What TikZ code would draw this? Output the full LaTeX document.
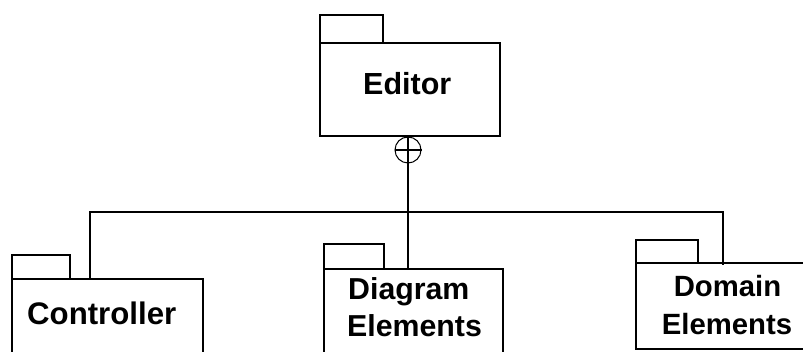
\documentclass[tikz,border=0pt]{standalone}
\usepackage{fontspec}
\setmainfont{Liberation Sans}
\begin{document}
\begin{tikzpicture}[x=1pt,y=-1pt,
  pkg/.style={draw=black,line width=2pt,rectangle,inner sep=0pt,anchor=north west},
  conn/.style={draw=black,line width=2pt},
  lbl/.style={font=\fontsize{30.5}{37}\selectfont\bfseries,inner sep=0pt,anchor=base west},
  lblsm/.style={font=\fontsize{29.3}{37}\selectfont\bfseries,inner sep=0pt,anchor=base}]
\useasboundingbox (0,0) rectangle (803,352);
\clip (0,0) rectangle (803,352);
% Editor
\node[pkg,minimum width=63pt,minimum height=28pt] (edtab) at (319,14) {};
\node[pkg,minimum width=180pt,minimum height=93pt] (ed) at (319,42) {};
\node[lbl] (edtxt) at (363,95) {Editor};
% Controller
\node[pkg,minimum width=58pt,minimum height=24pt] (cttab) at (11,254) {};
\node[pkg,minimum width=191pt,minimum height=110pt] (ct) at (11,278) {};
\node[lbl,font=\fontsize{31.2}{37}\selectfont\bfseries] (cttxt) at (27,325) {Controller};
% Diagram Elements
\node[pkg,minimum width=60pt,minimum height=25pt] (dgtab) at (323,243) {};
\node[pkg,minimum width=179pt,minimum height=110pt] (dg) at (323,268) {};
\node[lbl,font=\fontsize{30.3}{37}\selectfont\bfseries] (dgtxt1) at (348,300) {Diagram};
\node[lbl,font=\fontsize{30.3}{37}\selectfont\bfseries] (dgtxt2) at (347,337) {Elements};
% Domain Elements
\node[pkg,minimum width=62pt,minimum height=23pt] (dmtab) at (635,239) {};
\node[pkg,minimum width=200pt,minimum height=86pt] (dm) at (635,262) {};
\node[lblsm] (dmtxt1) at (727.5,297) {Domain};
\node[lblsm] (dmtxt2) at (727,335) {Elements};
% containment symbol
\node[draw=black,line width=1pt,circle,minimum size=26pt,inner sep=0pt] (plus) at (408,150) {};
\draw[line width=1.5pt] (plus.west) -- (plus.east);
\coordinate (bar) at (0,212);
\coordinate (ctx) at (90,0);
\coordinate (dmx) at (723,0);
\draw[conn] (ed.south -| plus) -- (plus.south |- dg.north);
\draw[conn] (ctx |- ct.north) -- (ctx |- bar) -- (dmx |- bar) -- ([yshift=-3pt]dmx |- dm.north);
\end{tikzpicture}
\end{document}
